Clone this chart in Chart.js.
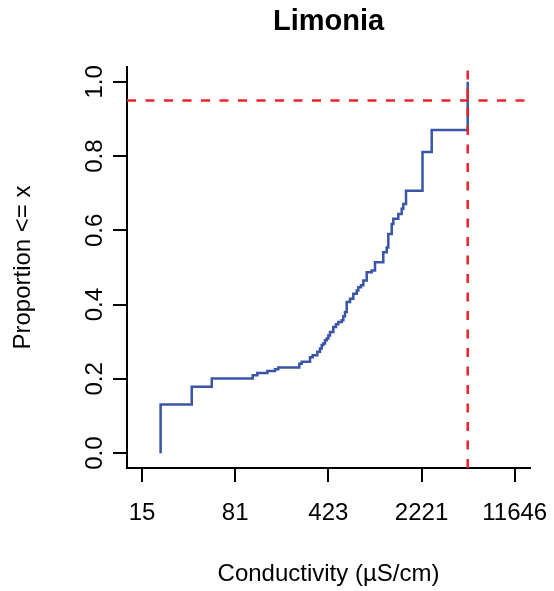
<!DOCTYPE html>
<html>
<head>
<meta charset="utf-8">
<script src="https://cdn.jsdelivr.net/npm/chart.js@4.4.1/dist/chart.umd.min.js"></script>
<style>
  html, body { margin: 0; padding: 0; background: #ffffff; }
  #wrap { width: 554px; height: 591px; }
</style>
</head>
<body>
<div id="wrap"><canvas id="c" width="554" height="591"></canvas></div>
<script>
// ---- data (ECDF of conductivity) ----
const chartTitle = 'Limonia';
const xAxisTitle = 'Conductivity (µS/cm)';
const yAxisTitle = 'Proportion <= x';

// conductivity value at each jump of the ECDF (µS/cm)
const conductivity = [21.5, 37.4, 53.4, 110.6, 120.0, 143.4, 164.4, 174.3, 253.3, 264.3,
  306.4, 321.4, 348.8, 365.9, 377.2, 388.1, 399.9, 412.3, 424.2, 437.2,
  463.6, 486.4, 506.7, 538.3, 553.8, 570.7, 588.3, 623.9, 661.6, 702.8,
  723.2, 758.6, 790.5, 839.5, 917.5, 972.9, 1127.6, 1198, 1233, 1310,
  1347, 1473, 1564, 1609, 1689, 2264, 2667, 5058];
// cumulative proportion reached at each jump
const proportion = [0.131, 0.179, 0.201, 0.210, 0.216, 0.221, 0.226, 0.231, 0.241, 0.246,
  0.258, 0.264, 0.273, 0.282, 0.291, 0.295, 0.304, 0.309, 0.317, 0.326,
  0.340, 0.347, 0.353, 0.358, 0.369, 0.380, 0.407, 0.416, 0.429, 0.438,
  0.447, 0.452, 0.465, 0.487, 0.492, 0.514, 0.541, 0.554, 0.590, 0.617,
  0.631, 0.644, 0.658, 0.671, 0.707, 0.811, 0.870, 1.0];

// reference lines
const refProportion = [0.95];
const refConductivity = [5058];

// axis ticks
const xTickValues = [15.45, 80.99, 424.6, 2226, 11670];
const xTickLabels = ['15', '81', '423', '2221', '11646'];
const yTickValues = [0, 0.2, 0.4, 0.6, 0.8, 1.0];
const yTickLabels = ['0.0', '0.2', '0.4', '0.6', '0.8', '1.0'];

// axis ranges (R style 4% extension)
const xRange = [11.83, 15311];
const yRange = [-0.04, 1.04];

// ---- build chart ----
const FONT = "'Liberation Sans', Arial, Helvetica, sans-serif";

const ecdfPoints = [{ x: conductivity[0], y: 0 }].concat(
  conductivity.map((c, i) => ({ x: c, y: proportion[i] }))
);
const hLine = [{ x: xRange[0], y: refProportion[0] }, { x: xRange[1], y: refProportion[0] }];
const vLine = [{ x: refConductivity[0], y: yRange[0] }, { x: refConductivity[0], y: yRange[1] }];

new Chart(document.getElementById('c'), {
  type: 'line',
  data: {
    datasets: [
      {
        label: 'ECDF',
        data: ecdfPoints,
        stepped: 'before',
        borderColor: '#3a55a6',
        borderWidth: 2.5,
        pointRadius: 0,
        fill: false,
        order: 2,
        clip: false
      },
      {
        label: '95%',
        data: hLine,
        borderColor: '#ee2228',
        borderWidth: 2.5,
        borderDash: [9, 9.5],
        pointRadius: 0,
        fill: false,
        order: 1
      },
      {
        label: 'threshold',
        data: vLine,
        borderColor: '#ee2228',
        borderWidth: 2.5,
        borderDash: [9, 9.5],
        pointRadius: 0,
        fill: false,
        order: 1
      }
    ]
  },
  options: {
    responsive: false,
    animation: false,
    devicePixelRatio: 1,
    layout: { padding: { left: 0, right: 24, top: 0, bottom: 0 } },
    plugins: {
      legend: { display: false },
      tooltip: { enabled: false },
      title: {
        display: true,
        text: chartTitle,
        fullSize: false,
        color: '#000',
        font: { family: FONT, size: 29, weight: 'bold' },
        padding: { top: 4.6, bottom: 27.6 }
      }
    },
    scales: {
      x: {
        type: 'logarithmic',
        position: 'bottom',
        min: xRange[0],
        max: xRange[1],
        afterBuildTicks: (s) => { s.ticks = xTickValues.map(v => ({ value: v })); },
        afterFit: (s) => { s.height = 123; s.paddingLeft = 0; s.paddingRight = 0; },
        border: { display: true, color: '#000', width: 2 },
        grid: { display: true, drawOnChartArea: false, drawTicks: true, tickLength: 14, color: '#000', lineWidth: 2 },
        ticks: {
          autoSkip: false, maxRotation: 0, minRotation: 0,
          color: '#000', padding: 17,
          font: { family: FONT, size: 24 },
          callback: (v, i) => xTickLabels[i]
        },
        title: {
          display: true, text: xAxisTitle, color: '#000',
          font: { family: FONT, size: 24 },
          padding: { top: 0, bottom: 2 }
        }
      },
      y: {
        type: 'linear',
        position: 'left',
        min: yRange[0],
        max: yRange[1],
        afterBuildTicks: (s) => { s.ticks = yTickValues.map(v => ({ value: v })); },
        afterFit: (s) => { s.width = 127; s.paddingTop = 0; s.paddingBottom = 0; },
        border: { display: true, color: '#000', width: 2 },
        grid: { display: true, drawOnChartArea: false, drawTicks: true, tickLength: 14, color: '#000', lineWidth: 2 },
        ticks: {
          autoSkip: false, minRotation: 90, maxRotation: 90,
          crossAlign: 'center',
          color: '#000', padding: 1,
          font: { family: FONT, size: 24 },
          callback: (v, i) => yTickLabels[i]
        },
        title: {
          display: true, text: yAxisTitle, color: '#000',
          font: { family: FONT, size: 24 },
          padding: { top: 8.6, bottom: 0 }
        }
      }
    }
  }
});
</script>
</body>
</html>
